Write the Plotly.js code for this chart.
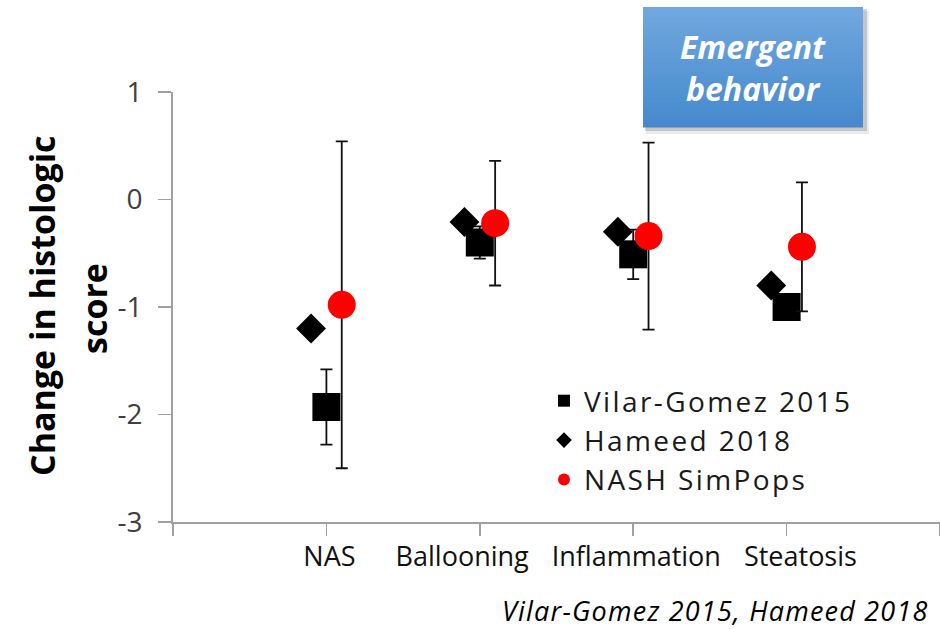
<!DOCTYPE html>
<html>
<head>
<meta charset="utf-8">
<script src="https://cdn.plot.ly/plotly-3.0.1.min.js"></script>
<style>
html,body{margin:0;padding:0;background:#fff;}
#chart{width:940px;height:629px;}
.legendtext{letter-spacing:2.4px;}
</style>
</head>
<body>
<div id="chart"></div>
<script>
// ---- data ----
const categories = ['NAS', 'Ballooning', 'Inflammation', 'Steatosis'];
const vilarMean = [-1.93, -0.40, -0.51, -1.00];
const vilarErr = [0.35, 0.15, 0.23, 0.12];
const hameedMean = [-1.20, -0.21, -0.30, -0.80];
const simpopsMean = [-0.98, -0.22, -0.34, -0.44];
const simpopsErr = [1.52, 0.58, 0.87, 0.60];
const yTicks = [-3, -2, -1, 0, 1];
const yTickText = ['-3', '-2', '-1', '0', '1'];

(function () {
const FONT = '"Open Sans", "Noto Sans", sans-serif';
const idx = categories.map((c, i) => i + 1);
const shift = (arr, d) => arr.map(v => v + d);
const labelPos = [1.02, 1.885, 3.02, 4.09];

const errStyle = {type: 'data', symmetric: true, visible: true, color: '#111', thickness: 1.8, width: 6};

const traces = [
  {
    name: 'Vilar-Gomez 2015', type: 'scatter', mode: 'markers',
    x: idx, y: vilarMean,
    error_y: Object.assign({array: vilarErr}, errStyle),
    marker: {symbol: 'square', size: 28, color: '#000'}
  },
  {
    name: 'Hameed 2018', type: 'scatter', mode: 'markers',
    x: shift(idx, -0.1), y: hameedMean,
    marker: {symbol: 'diamond', size: 23, color: '#000'}
  },
  {
    name: 'NASH SimPops', type: 'scatter', mode: 'markers',
    x: shift(idx, 0.1), y: simpopsMean,
    error_y: Object.assign({array: simpopsErr}, errStyle),
    marker: {symbol: 'circle', size: 28, color: '#ff0000'}
  },
  {x: [0], y: [0], xaxis: 'x2', type: 'scatter', mode: 'markers', marker: {opacity: 0}, showlegend: false, hoverinfo: 'skip'}
];

const L = 173, R = 940, T = 92, B = 522;
const px = v => (v - L) / (R - L);
const py = v => (B - v) / (B - T);

const shapes = [];
shapes.push({type: 'rect', xref: 'paper', yref: 'paper', x0: px(646), x1: px(869), y0: py(134), y1: py(11), line: {width: 0}, fillcolor: 'rgba(0,0,0,0.08)', layer: 'below'});
shapes.push({type: 'rect', xref: 'paper', yref: 'paper', x0: px(645), x1: px(867), y0: py(131), y1: py(9), line: {width: 0}, fillcolor: 'rgba(0,0,0,0.16)', layer: 'below'});
const cTop = [112, 167, 222], cBot = [70, 138, 205];
const nb = 24, bx0 = 643, bx1 = 863, by0 = 7, by1 = 127;
for (let k = 0; k < nb; k++) {
  const t = k / (nb - 1);
  const c = cTop.map((v, j) => Math.round(v + (cBot[j] - v) * t));
  const ya = by0 + (by1 - by0) * k / nb, yb = by0 + (by1 - by0) * (k + 1) / nb;
  shapes.push({type: 'rect', xref: 'paper', yref: 'paper', x0: px(bx0), x1: px(bx1), y0: py(yb + 0.5), y1: py(ya), line: {width: 0}, fillcolor: 'rgb(' + c.join(',') + ')', layer: 'below'});
}

const annotations = [
  {xref: 'paper', yref: 'paper', x: px(753), y: py(68), xanchor: 'center', yanchor: 'middle', text: '<b><i>Emergent<br>behavior</i></b>', showarrow: false,
   font: {family: FONT, size: 32, color: '#ffffff'}, align: 'center'},
  {xref: 'paper', yref: 'paper', x: px(42), y: py(306), xanchor: 'center', yanchor: 'middle', text: '<b>Change in histologic</b>', textangle: -90, showarrow: false,
   font: {family: FONT, size: 34, color: '#000'}},
  {xref: 'paper', yref: 'paper', x: px(94), y: py(309), xanchor: 'center', yanchor: 'middle', text: '<b>score</b>', textangle: -90, showarrow: false,
   font: {family: FONT, size: 34, color: '#000'}},
  {xref: 'paper', yref: 'paper', x: px(931), y: py(610), xanchor: 'right', yanchor: 'middle',
   text: '<span style="letter-spacing:1.2px"><i>Vilar-Gomez 2015, Hameed 2018</i></span>', showarrow: false,
   font: {family: FONT, size: 27, color: '#000'}}
];

const layout = {
  width: 940, height: 629,
  margin: {l: L, r: 940 - R, t: T, b: 629 - B, pad: 0},
  paper_bgcolor: '#fff', plot_bgcolor: 'rgba(0,0,0,0)',
  showlegend: true,
  legend: {x: px(544), y: py(376), xanchor: 'left', yanchor: 'top', bgcolor: 'rgba(0,0,0,0)',
           font: {family: FONT, size: 28, color: '#1a1a1a'}, itemsizing: 'constant', tracegroupgap: 0},
  xaxis: {range: [0, 5], tickvals: [0, 1, 2, 3, 4, 5], showticklabels: false, ticks: 'outside', ticklen: 12, tickwidth: 1.5,
          tickcolor: '#a0a0a0', showline: true, linecolor: '#a0a0a0', linewidth: 1.8, showgrid: false, zeroline: false, fixedrange: true},
  xaxis2: {overlaying: 'x', side: 'bottom', range: [0, 5], tickvals: labelPos, ticktext: categories, ticks: '', showline: false,
           showgrid: false, zeroline: false, ticklabelstandoff: 16, tickfont: {family: FONT, size: 27, color: '#111'}},
  yaxis: {range: [-3, 1], tickvals: yTicks, ticktext: yTickText, ticks: 'outside', ticklen: 13, tickwidth: 1.5, tickcolor: '#a0a0a0',
          showline: true, linecolor: '#a0a0a0', linewidth: 1.8, showgrid: false, zeroline: false, ticklabelstandoff: 10,
          tickfont: {family: FONT, size: 28, color: '#404040'}},
  shapes: shapes,
  annotations: annotations
};

Plotly.newPlot('chart', traces, layout, {displayModeBar: false, staticPlot: true});
})();
</script>
</body>
</html>
